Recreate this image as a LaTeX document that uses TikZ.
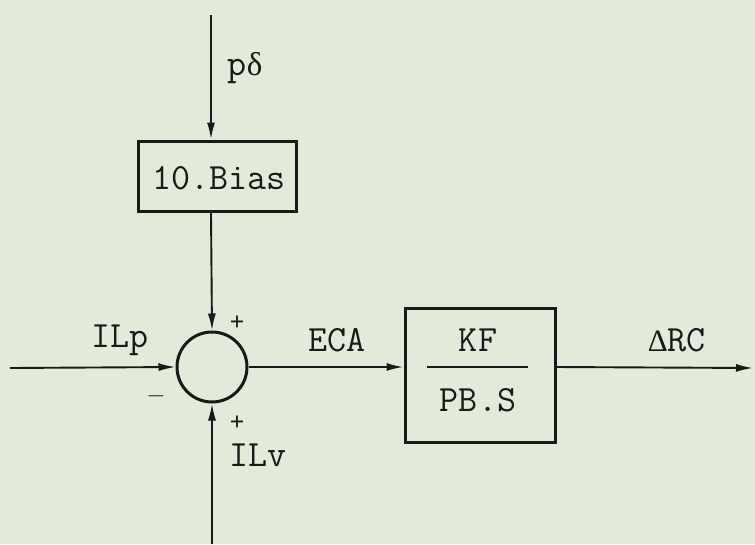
\documentclass[tikz,border=0pt]{standalone}
\usepackage{fontspec}
\newfontfamily\grk{Liberation Serif}
\usetikzlibrary{arrows.meta}
\definecolor{paper}{RGB}{226,234,218}
\definecolor{ink}{RGB}{25,25,25}
\begin{document}
\begin{tikzpicture}[x=1pt,y=-1pt,
  blockbox/.style={draw=ink,line width=3pt,rectangle,inner sep=0pt},
  sumnode/.style={draw=ink,line width=3pt,circle,inner sep=0pt,minimum size=70pt},
  sig/.style={draw=ink,line width=1.9pt,-{Latex[length=17pt,width=8pt]}},
  wire/.style={draw=ink,line width=1.9pt},
  lbl/.style={text=ink,font=\ttfamily\fontsize{37}{40}\selectfont,inner sep=0pt},
  sgn/.style={text=ink,font=\ttfamily\fontsize{28}{30}\selectfont,inner sep=0pt}]
\fill[paper] (0,0) rectangle (755,544);
\useasboundingbox (0,0) rectangle (755,544);
% blocks
\node[blockbox,minimum width=158pt,minimum height=70pt] (bias) at (217,176) {};
\node[lbl] (biastxt) at (219,178) {10.Bias};
\node[sumnode] (sum) at (212,367) {};
\node[blockbox,minimum width=150pt,minimum height=134pt] (kf) at (480,375) {};
\node[lbl] (kfnum) at (478,340) {KF};
\node[lbl] (kfden) at (478,400) {PB.S};
\coordinate (fracL) at (427,367);
\coordinate (fracR) at (528,367);
\draw[wire,line width=2.2pt] (fracL) -- (fracR);
% free ends
\coordinate (topin) at (211,15);
\coordinate (leftin) at (10,368);
\coordinate (botin) at (212,544);
\coordinate (out) at (753,368);
% connectors
\draw[sig] (topin) -- (topin |- bias.north);
\draw[sig] (bias.south -| topin) -- (sum.north);
\draw[sig] (leftin) -- (sum.west);
\draw[sig] (botin) -- (sum.south);
\draw[sig] (sum.east) -- (kf.west |- sum.east);
\draw[sig] (kf.east |- sum.east) -- (out);
% labels
\node[lbl] (pd) at (245,68) {p{\grk\fontsize{33}{36}\selectfont δ}};
\node[lbl] (ilp) at (120,340) {ILp};
\node[lbl] (eca) at (337,340) {ECA};
\node[lbl] (drc) at (677,340) {{\grk\fontsize{31}{34}\selectfont Δ}RC};
\node[lbl] (ilv) at (258,455) {ILv};
\node[sgn] (ptop) at (237,323) {+};
\node[sgn] (pbot) at (237,423) {+};
\node[sgn] (mleft) at (156,396) {$-$};
\end{tikzpicture}
\end{document}
